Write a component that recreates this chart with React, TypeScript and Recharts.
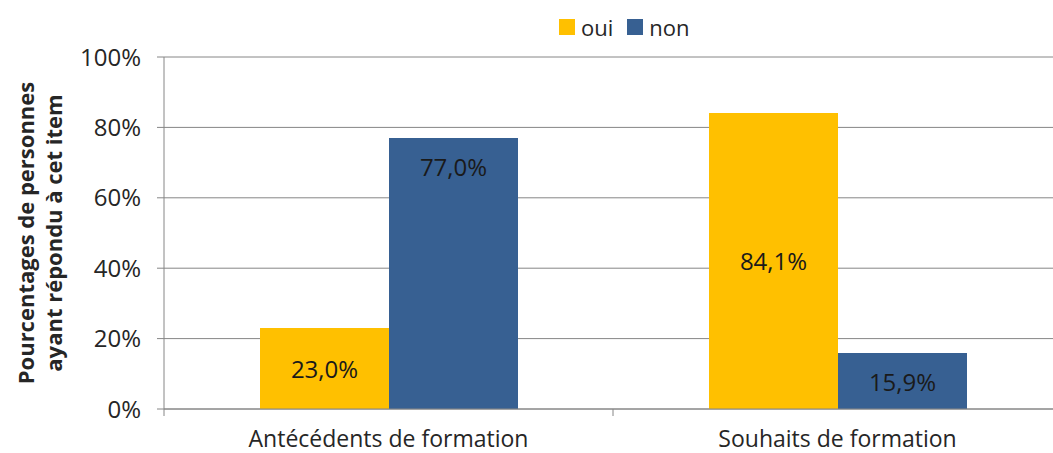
import React from "react";
import { BarChart, Bar, XAxis, YAxis, CartesianGrid, LabelList } from "recharts";

const categories = ["Antécédents de formation", "Souhaits de formation"];
const ouiValues = [23.0, 84.1];
const nonValues = [77.0, 15.9];
const yTicks = [0, 20, 40, 60, 80, 100];
const yTitle = ["Pourcentages de personnes", "ayant répondu à cet item"];
const series = [
  { key: "oui", color: "#FFC000" },
  { key: "non", color: "#376092" },
];
// labels drawn near the bar top instead of centred (series:index)
const topLabels = ["non:0"];

const data = categories.map((name, i) => ({
  name,
  oui: ouiValues[i],
  non: nonValues[i],
}));

const FONT = "'Open Sans', 'Liberation Sans', sans-serif";
const TEXT = "#262626";
const GRID = "#868686";

const fmt = (v: number) => v.toFixed(1).replace(".", ",") + "%";

const XTick = (props: any) => {
  const { x, y, payload, index, visibleTicksCount } = props;
  const off = payload.offset || 0;
  return (
    <g>
      <line x1={x - off} x2={x - off} y1={y} y2={y + 7} stroke={GRID} />
      {index === visibleTicksCount - 1 && (
        <line x1={x + off} x2={x + off} y1={y} y2={y + 7} stroke={GRID} />
      )}
      <text
        x={x}
        y={y + 38}
        textAnchor="middle"
        fill={TEXT}
        fontSize={23}
        fontFamily={FONT}
      >
        {payload.value}
      </text>
    </g>
  );
};

const YTitle = (props: any) => {
  const vb = props.viewBox || {};
  const cy = vb.y + vb.height / 2;
  return (
    <g>
      {yTitle.map((line, i) => {
        const cx = 25 + i * 28;
        return (
          <text
            key={i}
            x={cx}
            y={cy}
            transform={`rotate(-90, ${cx}, ${cy})`}
            textAnchor="middle"
            dominantBaseline="central"
            fill={TEXT}
            fontSize={22}
            fontWeight="bold"
            fontFamily={FONT}
          >
            {line}
          </text>
        );
      })}
    </g>
  );
};

const makeLabel = (seriesKey: string) => (props: any) => {
  const { x, y, width, height, value, index } = props;
  const atTop = topLabels.includes(`${seriesKey}:${index}`);
  const ly = atTop ? y + 29 : y + height / 2;
  return (
    <text
      x={x + width / 2}
      y={ly}
      textAnchor="middle"
      dominantBaseline="central"
      fill="#1a1a1a"
      fontSize={24}
      fontFamily={FONT}
    >
      {fmt(value)}
    </text>
  );
};

export default function App() {
  return (
    <div
      style={{
        position: "absolute",
        left: 0,
        top: 0,
        width: 1053,
        height: 453,
        overflow: "hidden",
        background: "#fff",
      }}
    >
      <div
        style={{
          position: "absolute",
          left: 559,
          top: 12,
          display: "flex",
          alignItems: "center",
          fontFamily: FONT,
          fontSize: 22,
          color: TEXT,
        }}
      >
        {series.map((s) => (
          <div key={s.key} style={{ display: "flex", alignItems: "center", marginRight: 14 }}>
            <span
              style={{
                display: "inline-block",
                width: 16,
                height: 16,
                background: s.color,
                marginRight: 6,
              }}
            />
            <span>{s.key}</span>
          </div>
        ))}
      </div>
      <BarChart
        width={1100}
        height={453}
        data={data}
        margin={{ top: 57, right: 38, bottom: 0, left: 0 }}
        barCategoryGap={96}
        barGap={0}
      >
        <CartesianGrid vertical={false} stroke={GRID} strokeWidth={1} />
        <XAxis
          dataKey="name"
          height={44}
          axisLine={{ stroke: GRID }}
          tickLine={false}
          tickSize={0}
          tickMargin={0}
          tick={<XTick />}
          interval={0}
        />
        <YAxis
          width={164}
          domain={[0, 100]}
          ticks={yTicks}
          tickFormatter={(v: number) => `${v}%`}
          axisLine={{ stroke: GRID }}
          tickLine={{ stroke: GRID }}
          tickSize={7}
          tickMargin={16}
          tick={{ fill: TEXT, fontSize: 24, fontFamily: FONT }}
          label={<YTitle />}
        />
        {series.map((s) => (
          <Bar key={s.key} dataKey={s.key} fill={s.color} isAnimationActive={false}>
            <LabelList dataKey={s.key} content={makeLabel(s.key)} />
          </Bar>
        ))}
      </BarChart>
    </div>
  );
}
